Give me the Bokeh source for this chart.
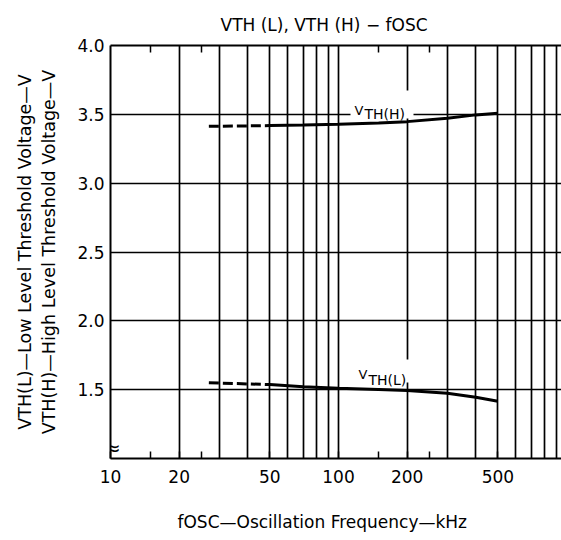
from bokeh.plotting import figure
from bokeh.models import FixedTicker, LogAxis, LinearAxis, Label, BoxAnnotation, Range1d, Title
from bokeh.embed import file_html
from bokeh.resources import INLINE

# ---- data ----
freq_dash = [27, 50]
vth_h_dash = [3.413, 3.418]
vth_l_dash = [1.55, 1.537]

freq = [50, 70, 100, 150, 200, 300, 400, 500]
vth_h = [3.418, 3.422, 3.428, 3.437, 3.447, 3.471, 3.496, 3.508]
vth_l = [1.537, 1.522, 1.511, 1.502, 1.494, 1.474, 1.445, 1.416]

x_tick_values = [10, 15, 20, 25, 50, 100, 150, 200, 250, 500]
x_tick_labels = ["10", "", "20", "", "50", "100", "", "200", "", "500"]
x_minor_marks = [15, 25, 150, 250]
x_grid_values = [20, 30, 40, 50, 60, 70, 80, 90, 100, 200, 300, 400, 500, 600, 700, 800, 900]
y_tick_values = [1.5, 2.0, 2.5, 3.0, 3.5, 4.0]
y_tick_labels = ["1.5", "2.0", "2.5", "3.0", "3.5", "4.0"]
y_grid_values = [1.5, 2.0, 2.5, 3.0, 3.5]

title_text = "VTH (L), VTH (H) \u2212 fOSC"
x_title = "fOSC\u2014Oscillation Frequency\u2014kHz"
y_title_low = "VTH(L)\u2014Low Level Threshold Voltage\u2014V"
y_title_high = "VTH(H)\u2014High Level Threshold Voltage\u2014V"

FONT = "DejaVu Sans"

# ---- layout ----
W, H = 561, 540
LEFT, TOP, BOTTOM = 110, 45, 82
FRAME_W = W - LEFT
FRAME_H = H - TOP - BOTTOM
PX_PER_DEC = 228.0
X_END = 10 ** (1 + FRAME_W / PX_PER_DEC)


def fx(px):
    return 10 ** (1 + (px - LEFT) / PX_PER_DEC)


def fy(py):
    return 1 + (TOP + FRAME_H - py) * 3.0 / FRAME_H


p = figure(width=W, height=H, x_axis_type="log",
           x_range=Range1d(10, X_END), y_range=Range1d(1.0, 4.0),
           output_backend="svg", toolbar_location=None,
           min_border_left=LEFT, min_border_right=0,
           min_border_top=TOP, min_border_bottom=BOTTOM)
p.outline_line_color = None
p.background_fill_color = "white"
p.border_fill_color = "white"

# x axis (bottom)
xa = p.xaxis[0]
xa.ticker = FixedTicker(ticks=x_tick_values)
xa.major_label_overrides = {v: s for v, s in zip(x_tick_values, x_tick_labels)}
xa.major_tick_in = 7
xa.major_tick_out = 0
xa.major_tick_line_width = 1.5
xa.minor_tick_line_color = None
xa.axis_line_width = 2
xa.major_label_standoff = 11
xa.major_label_text_font = FONT
xa.major_label_text_font_size = "17px"
xa.major_label_text_color = "black"

# top axis: only short marks
ta = LogAxis(ticker=FixedTicker(ticks=x_minor_marks))
ta.major_label_overrides = {v: "" for v in x_minor_marks}
ta.major_tick_in = 7
ta.major_tick_out = 0
ta.major_tick_line_width = 1.5
ta.minor_tick_line_color = None
ta.axis_line_width = 2
ta.major_label_text_font_size = "1px"
ta.major_label_standoff = 0
p.add_layout(ta, "above")

# y axis (with the second title line)
ya = p.yaxis[0]
ya.ticker = FixedTicker(ticks=y_tick_values)
ya.major_label_overrides = {v: s for v, s in zip(y_tick_values, y_tick_labels)}
ya.major_tick_in = 0
ya.major_tick_out = 0
ya.minor_tick_line_color = None
ya.axis_line_width = 2
ya.major_label_standoff = 6
ya.major_label_text_font = FONT
ya.major_label_text_font_size = "17px"
ya.major_label_text_color = "black"
ya.axis_label = y_title_high
ya.axis_label_text_font = FONT
ya.axis_label_text_font_size = "17.5px"
ya.axis_label_text_font_style = "normal"
ya.axis_label_text_color = "black"
ya.axis_label_standoff = 15

# outer left axis carrying only the first title line
ya2 = LinearAxis(ticker=FixedTicker(ticks=[]))
ya2.axis_line_color = None
ya2.major_tick_line_color = None
ya2.minor_tick_line_color = None
ya2.major_tick_out = 0
ya2.major_label_standoff = 0
ya2.axis_label = y_title_low
ya2.axis_label_text_font = FONT
ya2.axis_label_text_font_size = "17.5px"
ya2.axis_label_text_font_style = "normal"
ya2.axis_label_text_color = "black"
ya2.axis_label_standoff = 2
p.add_layout(ya2, "left")

# titles
t_top = Title(text=title_text, align="left", offset=220 - LEFT,
              text_font=FONT, text_font_size="17px", text_font_style="normal",
              text_color="black", standoff=22, vertical_align="bottom")
p.add_layout(t_top, "above")

t_bottom = Title(text="\n" + x_title, align="left", offset=177 - LEFT,
                 text_font=FONT, text_font_size="17px", text_font_style="normal",
                 text_color="black", standoff=8, vertical_align="bottom")
p.add_layout(t_bottom, "below")

# grids
p.xgrid.ticker = FixedTicker(ticks=x_grid_values)
p.xgrid.grid_line_color = "black"
p.xgrid.grid_line_width = 1.7
p.xgrid.grid_line_alpha = 1.0
p.ygrid.ticker = FixedTicker(ticks=y_grid_values)
p.ygrid.grid_line_color = "black"
p.ygrid.grid_line_width = 1.3
p.ygrid.grid_line_alpha = 1.0

# curves
p.line(freq_dash, vth_h_dash, line_color="black", line_width=3, line_dash="10 4")
p.line(freq, vth_h, line_color="black", line_width=3)
p.line(freq_dash, vth_l_dash, line_color="black", line_width=3, line_dash="10 4")
p.line(freq, vth_l, line_color="black", line_width=3)

# white boxes behind curve labels
for (l, r, t, b) in [(350, 413, 90, 118), (352, 414, 359, 382)]:
    p.add_layout(BoxAnnotation(left=fx(l), right=fx(r), top=fy(t), bottom=fy(b),
                               fill_color="white", fill_alpha=1.0, line_color=None))


def put(text, px, py, size, align="left", baseline="alphabetic"):
    p.add_layout(Label(x=fx(px), y=fy(py), text=text, text_font=FONT,
                       text_font_size=f"{size}px", text_color="black",
                       text_align=align, text_baseline=baseline))


# curve labels
put("V", 354, 110, 13)
put("TH(H)", 364, 113, 14)
put("V", 358, 374, 13)
put("TH(L)", 368, 379, 14)

# axis break mark
put("\u2248", 112, 447, 20, align="center", baseline="middle")

open("out.html", "w").write(file_html(p, INLINE))
